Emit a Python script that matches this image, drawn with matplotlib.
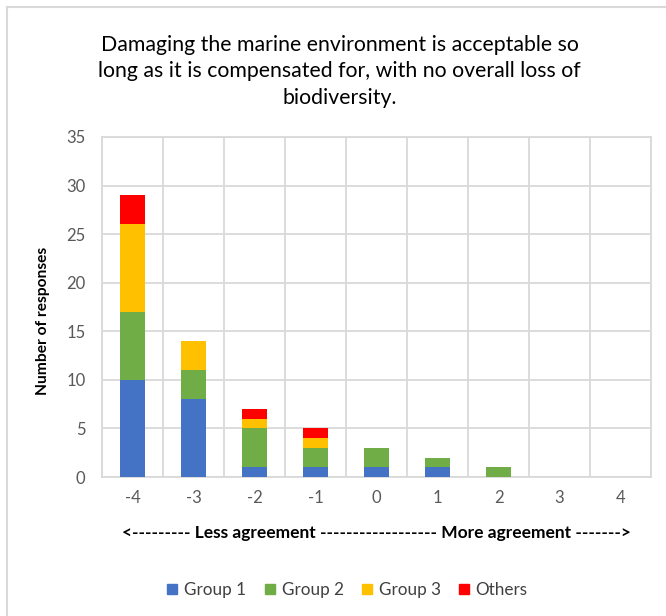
import matplotlib.pyplot as plt
from matplotlib.lines import Line2D
import numpy as np

plt.rcParams['font.family'] = ['Lato', 'DejaVu Sans']

categories = ['-4', '-3', '-2', '-1', '0', '1', '2', '3', '4']
group1 = [10, 8, 1, 1, 1, 1, 0, 0, 0]
group2 = [7, 3, 4, 2, 2, 1, 1, 0, 0]
group3 = [9, 3, 1, 1, 0, 0, 0, 0, 0]
others = [3, 0, 1, 1, 0, 0, 0, 0, 0]

series = [('Group 1', group1, '#4472C4'),
          ('Group 2', group2, '#70AD47'),
          ('Group 3', group3, '#FFC000'),
          ('Others', others, '#FF0000')]

fig = plt.figure(figsize=(6.66, 6.16), dpi=100)
ax = fig.add_axes([0.1532, 0.2256, 0.8243, 0.552])

x = np.arange(len(categories))
bottom = np.zeros(len(categories))
for name, vals, color in series:
    vals = np.array(vals, dtype=float)
    ax.bar(x, vals, width=0.4, bottom=bottom, color=color, label=name,
           zorder=3)
    bottom += vals

ax.set_xlim(-0.5, len(categories) - 0.5)
ax.set_ylim(0, 35)
ax.set_yticks(np.arange(0, 36, 5))
ax.set_xticks(x)
ax.set_xticklabels(categories)
ax.tick_params(axis='both', length=0, colors='#595959', labelsize=12)
ax.tick_params(axis='x', pad=9)
ax.tick_params(axis='y', pad=12)

grid_c = '#D9D9D9'
ax.yaxis.grid(True, color=grid_c, linewidth=1.3, zorder=0)
ax.set_xticks(np.arange(-0.5, len(categories), 1), minor=True)
ax.xaxis.grid(True, which='minor', color=grid_c, linewidth=1.3, zorder=0)
ax.tick_params(axis='x', which='minor', length=0)
for s in ax.spines.values():
    s.set_color(grid_c)
    s.set_linewidth(1.3)

ax.set_ylabel('Number of responses', fontsize=11.2, fontweight='bold',
              color='black', labelpad=8)
ax.yaxis.set_label_coords(-0.095, 0.46)
ax.set_xlabel('<--------- Less agreement ------------------ More agreement ------->',
              fontsize=12.5, fontweight='bold', color='black', labelpad=14)

fig.text(0.51, 0.884,
         'Damaging the marine environment is acceptable so\n'
         'long as it is compensated for, with no overall loss of\n'
         'biodiversity.',
         ha='center', va='center', fontsize=15.3, linespacing=1.42,
         color='black')

handles = [Line2D([], [], marker='s', linestyle='none', markersize=7.5,
                  color=c) for _, _, c in series]
fig.legend(handles, [n for n, _, _ in series], loc='center',
           bbox_to_anchor=(0.521, 0.042), ncol=4, frameon=False,
           fontsize=12.3, handlelength=0.7, handletextpad=0.35,
           columnspacing=1.0, labelcolor='#404040')

# Outer chart frame
fig.add_artist(Line2D([0.011, 0.011], [0, 0.989], transform=fig.transFigure,
                      color=grid_c, linewidth=1.5))
fig.add_artist(Line2D([0.011, 1.0], [0.989, 0.989], transform=fig.transFigure,
                      color=grid_c, linewidth=1.5))

fig.savefig('out.png', dpi=100)
